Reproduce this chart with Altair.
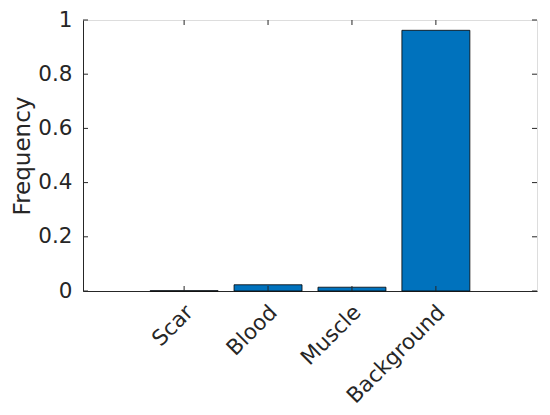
import altair as alt
import pandas as pd

categories = ["Scar", "Blood", "Muscle", "Background"]
frequency = [0.001, 0.023, 0.014, 0.962]
y_ticks = [0, 0.2, 0.4, 0.6, 0.8, 1.0]

df = pd.DataFrame({"cat": categories, "freq": frequency})
ticks_df = pd.DataFrame({"v": y_ticks})
cat_df = pd.DataFrame({"cat": categories})

W, H = 454, 271
FONT = "DejaVu Sans"
AX = "#262626"
TL = 5

xscale = alt.Scale(domain=categories, paddingInner=0.19, paddingOuter=0.8)
yscale = alt.Scale(domain=[0, 1], nice=False)

bars = alt.Chart(df).mark_bar(color="#0072BD", stroke="#000000", strokeWidth=0.8).encode(
    x=alt.X("cat:N", scale=xscale, sort=categories,
            axis=alt.Axis(title=None, labelAngle=-45, labelAlign="right", labelBaseline="middle",
                          labelPadding=18, labelOffset=6, ticks=False, domain=True, domainColor=AX,
                          labelFontSize=21.5, labelColor=AX, labelFont=FONT)),
    y=alt.Y("freq:Q", scale=yscale,
            axis=alt.Axis(title="Frequency", values=y_ticks, format="~g", ticks=False, grid=False,
                          domainColor=AX, labelFontSize=21.5, labelColor=AX, labelFont=FONT,
                          labelPadding=11, titleFontSize=23, titleFont=FONT, titleColor=AX,
                          titleFontWeight="normal", titlePadding=3)),
)

yticks_left = alt.Chart(ticks_df).mark_rule(color=AX, strokeWidth=1).encode(
    y=alt.Y("v:Q", scale=yscale), x=alt.value(0), x2=alt.value(TL))
yticks_right = alt.Chart(ticks_df).mark_rule(color=AX, strokeWidth=1).encode(
    y=alt.Y("v:Q", scale=yscale), x=alt.value(W), x2=alt.value(W - TL))
xticks_bottom = alt.Chart(cat_df).mark_rule(color=AX, strokeWidth=1).encode(
    x=alt.X("cat:N", scale=xscale, sort=categories), y=alt.value(H), y2=alt.value(H - TL))
xticks_top = alt.Chart(cat_df).mark_rule(color=AX, strokeWidth=1).encode(
    x=alt.X("cat:N", scale=xscale, sort=categories), y=alt.value(0), y2=alt.value(TL))

chart = alt.layer(bars, yticks_left, yticks_right, xticks_bottom, xticks_top).properties(
    width=W, height=H,
    autosize=alt.AutoSizeParams(type="none"),
    padding={"left": 75, "top": 12, "right": 5, "bottom": 116},
).configure_view(stroke=AX, strokeWidth=1).configure(background="white")

chart.save("out.html", embed_options={"renderer": "svg", "actions": False})
